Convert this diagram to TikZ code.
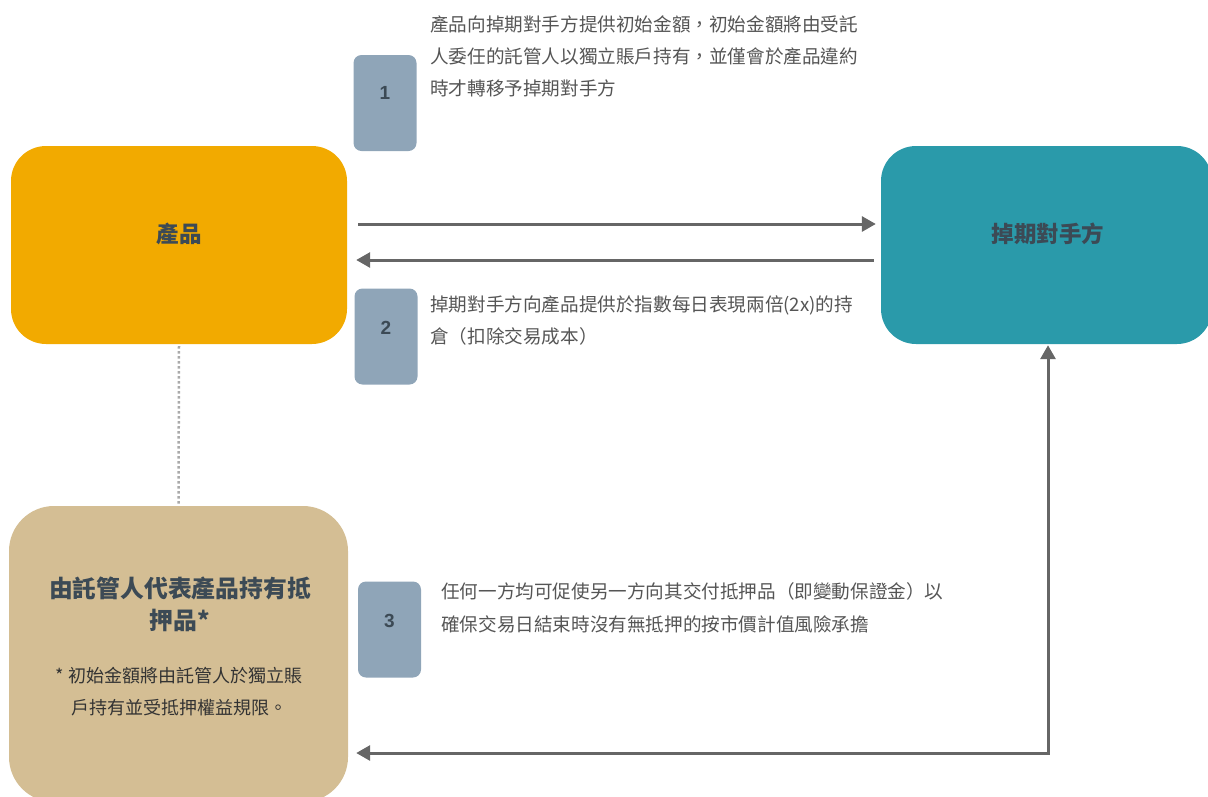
\documentclass[tikz,border=0pt]{standalone}
\usepackage{fontspec}
\newfontfamily\cjk{Noto Sans CJK TC}
\newfontfamily\arialf{Liberation Sans}
\usetikzlibrary{arrows.meta}
\definecolor{prodorange}{HTML}{F2AA00}
\definecolor{cpteal}{HTML}{2A9AAA}
\definecolor{coltan}{HTML}{D4BE94}
\definecolor{numbox}{HTML}{8FA5B8}
\definecolor{labeldark}{HTML}{3C4A55}
\definecolor{desc}{HTML}{555555}
\definecolor{foot}{HTML}{333333}
\definecolor{arrowgray}{HTML}{666666}
\definecolor{dotgray}{HTML}{AAAAAA}
\tikzset{
  bigbox/.style={draw=none, rounded corners=35pt, inner sep=0pt},
  numboxst/.style={fill=numbox, draw=none, rounded corners=8pt, minimum width=63pt, minimum height=96pt, inner sep=0pt},
  numtxt/.style={font=\arialf\bfseries\fontsize{19}{21}\selectfont, text=labeldark, anchor=base, inner sep=0pt},
  desctxt/.style={font=\cjk\fontsize{18.6}{22}\selectfont, text=desc, anchor=base west, inner sep=0pt},
  boxlabel/.style={font=\cjk\bfseries\fontsize{22.5}{26}\selectfont, text=labeldark, anchor=base, inner sep=0pt},
  coltitle/.style={font=\cjk\bfseries\fontsize{23.8}{28}\selectfont, text=labeldark, anchor=base, inner sep=0pt},
  foottxt/.style={font=\cjk\fontsize{18}{22}\selectfont, text=foot, anchor=base, inner sep=0pt},
  flow/.style={draw=arrowgray, line width=3pt, -{Triangle[length=14pt,width=15pt]}},
  flowboth/.style={draw=arrowgray, line width=3pt, {Triangle[length=14pt,width=15pt]}-{Triangle[length=14pt,width=15pt]}},
  dotline/.style={draw=dotgray, line width=2.5pt, dash pattern=on 2.5pt off 2.5pt}
}
\begin{document}
\begin{tikzpicture}[x=1pt,y=-1pt]
\useasboundingbox (0,0) rectangle (1208,796);
\begin{scope}
\clip (0,0) rectangle (1208,796);
% main boxes
\node[bigbox, fill=prodorange, minimum width=336pt, minimum height=198pt] (prod) at (179,245) {};
\node[bigbox, fill=cpteal, minimum width=331pt, minimum height=198pt] (cp) at (1046.5,245) {};
\node[bigbox, fill=coltan, rounded corners=45pt, minimum width=339pt, minimum height=296pt] (col) at (178.5,654) {};
\end{scope}
% labels in main boxes
\node[boxlabel] (prodlbl) at (179,242) {產品};
\node[boxlabel] (cplbl) at (1048,242) {掉期對手方};
\node[coltitle] (colt1) at (180,597) {由託管人代表產品持有抵};
\node[coltitle] (colt2) at (180,629) {押品*};
\node[foottxt] (colf1) at (179,682) {* 初始金額將由託管人於獨立賬};
\node[foottxt] (colf2) at (179,714) {戶持有並受抵押權益規限。};
% number boxes
\node[numboxst] (nb1) at (385,103) {};
\node[numboxst] (nb2) at (386,336.5) {};
\node[numboxst] (nb3) at (389.5,629.5) {};
\node[numtxt] (n1) at (385,99) {1};
\node[numtxt] (n2) at (386,334) {2};
\node[numtxt] (n3) at (389.5,627) {3};
% descriptions
\node[desctxt] (d1a) at (430,31) {產品向掉期對手方提供初始金額，初始金額將由受託};
\node[desctxt] (d1b) at (430,63) {人委任的託管人以獨立賬戶持有，並僅會於產品違約};
\node[desctxt] (d1c) at (430,95) {時才轉移予掉期對手方};
\node[desctxt] (d2a) at (430,311) {掉期對手方向產品提供於指數每日表現兩倍(2x)的持};
\node[desctxt] (d2b) at (430,343) {倉（扣除交易成本）};
\node[desctxt] (d3a) at (441,598) {任何一方均可促使另一方向其交付抵押品（即變動保證金）以};
\node[desctxt] (d3b) at (441,631) {確保交易日結束時沒有無抵押的按市價計值風險承擔};
% connectors
\draw[flow] ([xshift=11pt,yshift=21pt]prod.east) -- ([xshift=-5pt,yshift=21pt]cp.west);
\draw[flow] ([xshift=-7pt,yshift=-15pt]cp.west) -- ([xshift=9pt,yshift=-15pt]prod.east);
\coordinate (corner) at (1048,753);
\draw[flowboth] ([yshift=-1pt]cp.south -| corner) -- (corner) -- ([xshift=8pt]col.east |- corner);
\draw[dotline] ([yshift=-2pt]prod.south) -- (col.north);
\end{tikzpicture}
\end{document}
